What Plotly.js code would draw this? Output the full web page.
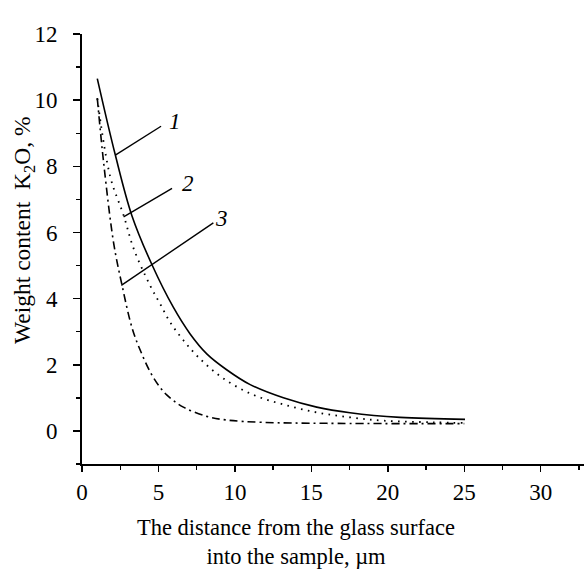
<!DOCTYPE html>
<html>
<head>
<meta charset="utf-8">
<script src="https://cdn.plot.ly/plotly-3.0.1.min.js"></script>
<style>html,body{margin:0;padding:0;background:#fff;}#chart{width:584px;height:570px;}</style>
</head>
<body>
<div id="chart"></div>
<script>
// Curve 1 (solid)
const x1 = [1.0, 2.18, 3.27, 4.6, 5.97, 7.06, 8.16, 9.46, 11.0, 13.17, 15.35, 17.53, 20.8, 25.05];
const y1 = [10.65, 8.34, 6.5, 5.0, 3.74, 2.94, 2.33, 1.85, 1.40, 1.0, 0.72, 0.55, 0.41, 0.35];
// Curve 2 (dotted)
const x2 = [1.0, 1.85, 2.72, 3.38, 4.45, 5.1, 5.76, 6.63, 7.61, 9.14, 11.1, 13.17, 15.35, 17.53, 19.7, 22.98, 25.0];
const y2 = [10.05, 7.68, 6.52, 5.51, 4.4, 3.85, 3.29, 2.74, 2.23, 1.62, 1.11, 0.8, 0.56, 0.41, 0.31, 0.26, 0.24];
// Curve 3 (dash-dot)
const x3 = [1.0, 1.42, 2.07, 2.62, 3.27, 3.79, 4.66, 5.54, 6.63, 8.16, 9.46, 11.77, 16.0, 25.0];
const y3 = [10.06, 8.09, 5.68, 4.4, 3.12, 2.46, 1.62, 1.09, 0.72, 0.44, 0.33, 0.26, 0.23, 0.22];
// Curve labels
const curveLabels = ['1', '2', '3'];

const serif = 'Liberation Serif, Times New Roman, serif';

const traces = [
  {x: x1, y: y1, mode: 'lines', line: {color: '#000', width: 1.6, shape: 'spline', smoothing: 1}, hoverinfo: 'skip'},
  {x: x2, y: y2, mode: 'lines', line: {color: '#000', width: 1.8, dash: '1.6px,5.4px', shape: 'spline', smoothing: 1}, hoverinfo: 'skip'},
  {x: x3, y: y3, mode: 'lines', line: {color: '#000', width: 1.6, dash: '8px,4px,2px,4px', shape: 'spline', smoothing: 1}, hoverinfo: 'skip'}
];

const leaders = [
  {from: [2.18, 8.34], to: [5.17, 9.21], lab: [6.1, 9.35]},
  {from: [2.72, 6.47], to: [5.89, 7.33], lab: [6.9, 7.48]},
  {from: [2.57, 4.40], to: [8.59, 6.29], lab: [9.15, 6.42]}
];

const shapes = leaders.map(l => ({
  type: 'line', xref: 'x', yref: 'y',
  x0: l.from[0], y0: l.from[1], x1: l.to[0], y1: l.to[1],
  line: {color: '#000', width: 1.4}
}));

const annotations = leaders.map((l, i) => ({
  xref: 'x', yref: 'y', x: l.lab[0], y: l.lab[1],
  text: '<i>' + curveLabels[i] + '</i>', showarrow: false,
  font: {family: serif, size: 23, color: '#000'}
}));

annotations.push({
  xref: 'paper', yref: 'paper', x: (296 - 82) / 502, y: (570 - 106 - 542) / 430,
  xanchor: 'center', yanchor: 'middle', showarrow: false,
  text: 'The distance from the glass surface<br>into the sample, µm',
  font: {family: serif, size: 22.5, color: '#000'}
});
annotations.push({
  xref: 'paper', yref: 'paper', x: (24 - 82) / 502, y: (464 - 230) / 430,
  xanchor: 'center', yanchor: 'middle', showarrow: false, textangle: -90,
  text: 'Weight content&nbsp;&nbsp;K<sub>2</sub>O, %',
  font: {family: serif, size: 23.5, color: '#000'}
});

const layout = {
  width: 584, height: 570,
  margin: {l: 82, r: 0, t: 34, b: 106},
  paper_bgcolor: '#fff', plot_bgcolor: '#fff',
  showlegend: false,
  font: {family: serif, size: 22, color: '#000'},
  xaxis: {
    range: [0, 32.83], showgrid: false, zeroline: false,
    showline: true, linecolor: '#000', linewidth: 2,
    ticks: 'outside', ticklen: 6, tickwidth: 1.5, tickcolor: '#000',
    tick0: 0, dtick: 5, ticklabelstandoff: 0,
    minor: {ticks: 'outside', ticklen: 4, tickwidth: 1.3, tickcolor: '#000', dtick: 2.5, showgrid: false},
    tickfont: {family: serif, size: 23, color: '#000'}
  },
  yaxis: {
    range: [-1, 12], showgrid: false, zeroline: false,
    showline: true, linecolor: '#000', linewidth: 2,
    ticks: 'outside', ticklen: 7, tickwidth: 1.5, tickcolor: '#000',
    tick0: 0, dtick: 2, ticklabelstandoff: 11,
    minor: {ticks: 'outside', ticklen: 4, tickwidth: 1.3, tickcolor: '#000', dtick: 1, showgrid: false},
    tickfont: {family: serif, size: 23, color: '#000'}
  },
  shapes: shapes,
  annotations: annotations
};

Plotly.newPlot('chart', traces, layout, {staticPlot: true, displayModeBar: false});
</script>
</body>
</html>
